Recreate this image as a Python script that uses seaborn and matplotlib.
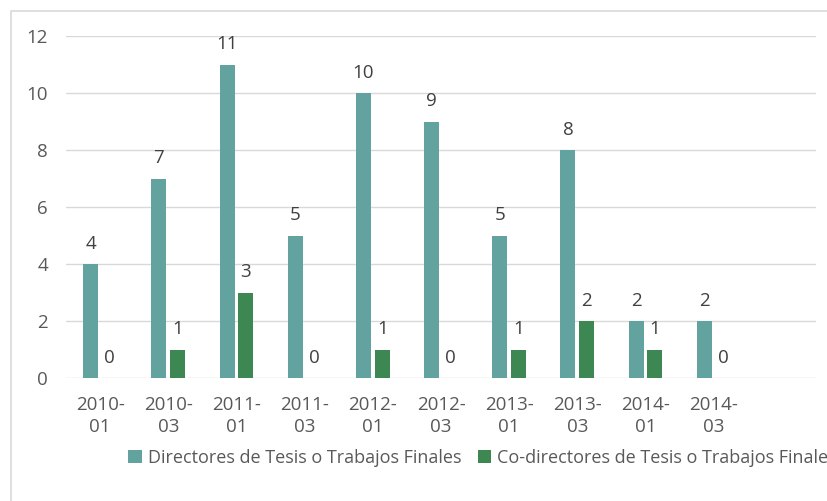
import matplotlib
matplotlib.use("Agg")
import matplotlib.pyplot as plt
import matplotlib.patches as mpatches
import seaborn as sns
import pandas as pd
import numpy as np

categories = ["2010-\n01", "2010-\n03", "2011-\n01", "2011-\n03", "2012-\n01",
              "2012-\n03", "2013-\n01", "2013-\n03", "2014-\n01", "2014-\n03"]
empty_slot = [" "]
directores = [4, 7, 11, 5, 10, 9, 5, 8, 2, 2]
codirectores = [0, 1, 3, 0, 1, 0, 1, 2, 1, 0]
series_names = ["Directores de Tesis o Trabajos Finales",
                "Co-directores de Tesis o Trabajos Finales"]
colors = ["#62A39F", "#3D8753"]
yticks = [0, 2, 4, 6, 8, 10, 12]

df = pd.DataFrame({
    "cat": categories * 2,
    "serie": [series_names[0]] * len(categories) + [series_names[1]] * len(categories),
    "val": directores + codirectores,
})

sns.set_theme(style="white")
plt.rcParams["font.family"] = ["Open Sans", "DejaVu Sans"]

fig = plt.figure(figsize=(8.27, 5.01), dpi=100)
ax = fig.add_axes([66/827, 1-378/501, (816-66)/827, (378-36)/501])

sns.barplot(data=df, x="cat", y="val", hue="serie", order=categories + empty_slot,
            hue_order=series_names, palette=colors, width=0.55, gap=0.2,
            saturation=1, ax=ax, legend=True, edgecolor="none", linewidth=0)

for cont in ax.containers:
    labels = ["" if np.isnan(v) else f"{int(v)}" for v in cont.datavalues]
    ax.bar_label(cont, labels=labels, padding=8, fontsize=13.5, color="#404040")

ax.set_ylim(0, 12)
ax.set_yticks(yticks)
ax.set_xlabel("")
ax.set_ylabel("")
ax.grid(axis="y", color="#D9D9D9", linewidth=1)
ax.set_axisbelow(True)
for s in ax.spines.values():
    s.set_visible(False)
ax.tick_params(axis="y", length=0, pad=13, labelsize=13.5, labelcolor="#595959")
ax.tick_params(axis="x", length=0, pad=13, labelsize=13.5, labelcolor="#595959")
for t in ax.get_xticklabels():
    t.set_linespacing(1.3)

leg = ax.get_legend()
handles = leg.legend_handles
leg.remove()
fig.legend(handles, series_names, loc="center left", bbox_to_anchor=(128/827, 1-458/501),
           ncol=2, frameon=False, fontsize=13, labelcolor="#595959",
           handlelength=0.75, handleheight=0.75, handletextpad=0.35, columnspacing=0.9,
           borderaxespad=0, borderpad=0)

rect = mpatches.Rectangle((11/827, -0.1), 1.2, 1 - 11/501 + 0.1, transform=fig.transFigure,
                          fill=False, edgecolor="#D9D9D9", linewidth=1.2, clip_on=False)
fig.patches.append(rect)

fig.savefig("out.png", dpi=100)
